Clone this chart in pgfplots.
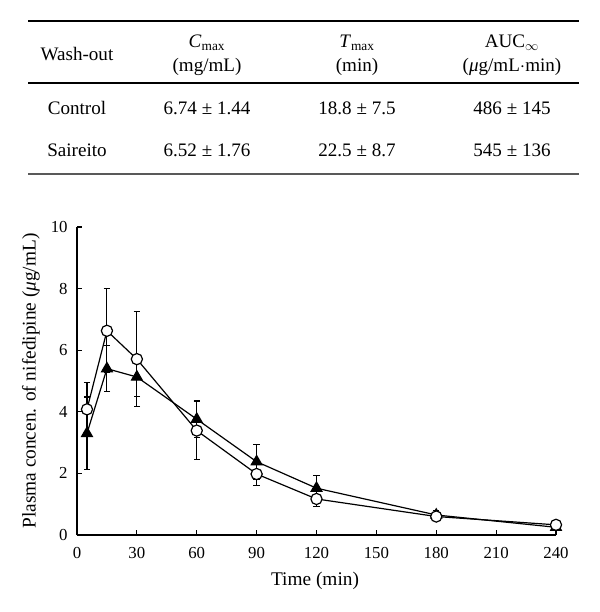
\documentclass[border=0pt]{standalone}
\usepackage{fontspec}
\setmainfont{Liberation Serif}
\usepackage{pgfplots}
\pgfplotsset{compat=1.18}
\begin{document}
\begin{tikzpicture}
\useasboundingbox (0,0) rectangle (450pt,459pt);
\begin{scope}[x=0.75pt,y=0.75pt,every node/.style={font=\fontsize{14.3}{17}\selectfont, inner sep=0pt}]
\draw[line width=1.1pt] (28,591) -- (579,591);
\draw[line width=0.9pt] (28,529) -- (579,529);
\draw[line width=1.5pt, black!65] (28,438) -- (579,438);
\node at (77,558) {Wash-out};
\node at (207,569) {\textit{C}\textsubscript{max}};
\node at (207,545) {(mg/mL)};
\node at (357,569) {\textit{T}\textsubscript{max}};
\node at (357,545) {(min)};
\node at (512,569) {AUC\textsubscript{$\infty$}};
\node at (512,545) {(\textit{μ}g/mL$\cdot$min)};
\node at (77,504) {Control};
\node at (207,504) {6.74 ± 1.44};
\node at (357,504) {18.8 ± 7.5};
\node at (512,504) {486 ± 145};
\node at (77,462) {Saireito};
\node at (207,462) {6.52 ± 1.76};
\node at (357,462) {22.5 ± 8.7};
\node at (512,462) {545 ± 136};
\end{scope}
\begin{axis}[
  at={(57.75pt,57.75pt)}, anchor=south west,
  scale only axis, width=359.25pt, height=231pt,
  xmin=0, xmax=240, ymin=0, ymax=10,
  axis x line=bottom, axis y line=left,
  axis line style={-, line width=0.8pt},
  xtick={0,30,...,240}, ytick={0,2,...,10},
  tick align=inside, major tick length=4pt,
  tick style={line width=0.8pt, black},
  /pgf/number format/assume math mode=true,
  ticklabel style={font=\fontsize{12.6}{14}\selectfont},
  xticklabel style={yshift=-6pt},
  yticklabel style={xshift=-3.5pt},
  label style={font=\fontsize{14.5}{17}\selectfont},
  xlabel={Time (min)},
  ylabel={Plasma concen. of nifedipine (\textit{μ}g/mL)},
  xlabel style={at={(axis description cs:0.497,-0.149)}, anchor=center},
  ylabel style={at={(axis description cs:-0.096,0.5)}, anchor=center},
  clip=false,
  error bars/error bar style={line width=0.8pt, black},
  error bars/error mark options={rotate=90, mark size=2.4pt, line width=0.8pt, black},
]
\addplot[black, line width=0.9pt, mark=triangle*, mark size=4.6pt, mark options={fill=black, solid},
  error bars/.cd, y dir=both, y explicit]
  coordinates {
  (5,3.30) +- (0,1.18)
  (15,5.40) +- (0,0.75)
  (30,5.13) +- (0,0.62)
  (60,3.76) +- (0,0.60)
  (90,2.38) +- (0,0.57)
  (120,1.52) +- (0,0.40)
  (180,0.65) +- (0,0.15)
  (240,0.25) +- (0,0.06)
  };
\addplot[black, line width=0.9pt, mark=*, mark size=4.2pt, mark options={fill=white, solid},
  error bars/.cd, y dir=both, y explicit]
  coordinates {
  (5,4.08) +- (0,0.87)
  (15,6.63) +- (0,1.36)
  (30,5.71) +- (0,1.54)
  (60,3.39) +- (0,0.95)
  (90,1.98) +- (0,0.36)
  (120,1.17) +- (0,0.25)
  (180,0.60) +- (0,0.12)
  (240,0.33) +- (0,0.05)
  };
\end{axis}
\end{tikzpicture}
\end{document}
